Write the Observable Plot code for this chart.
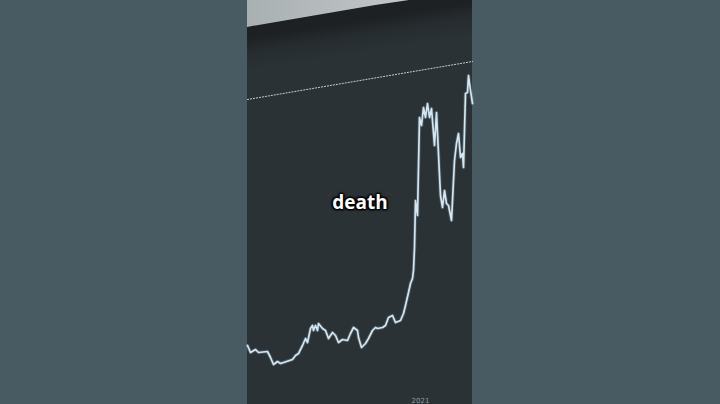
<!DOCTYPE html>
<html>
<head>
<meta charset="utf-8">
<script src="https://cdn.jsdelivr.net/npm/d3@7"></script>
<script src="https://cdn.jsdelivr.net/npm/@observablehq/plot@0.6"></script>
<style>
  html, body { margin: 0; padding: 0; background: #485a62; width: 720px; height: 404px; overflow: hidden; }
  #wrap { position: relative; width: 720px; height: 404px; }
  #panel { position: absolute; left: 247px; top: 0; width: 225px; height: 404px; overflow: hidden;
           background: linear-gradient(171deg, #1d2022 0px, #1e2123 38px, #262c2f 52px, #2a3236 70px, #2a3236 100%); }
  #light { position: absolute; left: 0; top: 0; width: 225px; height: 28px;
           background: linear-gradient(to right, #a9b0b2, #b7bdbf 40%, #c2c6c7 70%, #9aa1a3);
           clip-path: polygon(0 0, 100% 0, 100% 0%, 72% 0%, 57% 18%, 0 96%); }
  #chart { position: absolute; left: 0; top: 0; }
  #caption { position: absolute; left: 0; width: 720px; top: 189px; text-align: center;
             font-family: "Open Sans", "Noto Sans", sans-serif; font-weight: 700; font-size: 19px; color: #ffffff;
             text-shadow: 0 0 2px #000, 0 0 2px #000, 1px 1px 2px #000, -1px -1px 2px #000, 1px -1px 2px #000, -1px 1px 2px #000; }
</style>
</head>
<body>
<div id="wrap">
  <div id="panel"><div id="light"></div></div>
  <div id="chart"></div>
  <div id="caption">death</div>
</div>
<script>
// Price series (day index, price in arbitrary units)
const days = [0, 3, 8, 11, 20, 23, 26, 30, 33, 45,
  48, 51, 55, 58, 60, 63, 65, 66, 68, 70,
  71, 75, 78, 81, 83, 85, 88, 91, 95, 100,
  103, 106, 110, 111, 114, 118, 121, 125, 128, 130,
  135, 138, 141, 145, 148, 153, 156, 158, 161, 163,
  165, 166, 167, 168, 170, 172, 174, 176, 178, 180,
  182, 184, 187, 189, 193, 195, 197, 199, 201, 204,
  207, 209, 211, 213, 215, 216, 218, 220, 221, 223,
  225];
const prices = [59, 52, 55, 52, 53, 47, 40, 43, 41, 45,
  49, 51, 59, 66, 62, 76, 79, 74, 79, 74,
  81, 76, 74, 66, 69, 72, 69, 62, 65, 64,
  71, 77, 74, 67, 57, 61, 66, 74, 77, 76,
  77, 79, 87, 89, 82, 84, 91, 99, 112, 121,
  126, 134, 157, 204, 189, 287, 279, 297, 287, 301,
  287, 296, 259, 292, 209, 197, 214, 201, 199, 184,
  244, 261, 271, 247, 251, 237, 311, 312, 329, 314,
  301];
// Dotted reference level (start and end of the visible window)
const refDays = [0, 225];
const refLevel = [305, 343];
const tickLabel = "2021";

const series = days.map((d, i) => ({day: d, price: prices[i]}));
const ref = refDays.map((d, i) => ({day: d, price: refLevel[i]}));

const chart = Plot.plot({
  width: 720,
  height: 404,
  margin: 0,
  style: {background: "transparent", overflow: "visible"},
  x: {domain: [0, 225], range: [247, 472], axis: null},
  y: {domain: [0, 404], range: [404, 0], axis: null},
  marks: [
    Plot.line(ref, {x: "day", y: "price", stroke: "#d7dfe2", strokeWidth: 1, strokeDasharray: "1.2,1.8", strokeOpacity: 0.9}),
    Plot.line(series, {x: "day", y: "price", stroke: "#9fc4dc", strokeWidth: 3.5, strokeOpacity: 0.25, curve: "linear"}),
    Plot.line(series, {x: "day", y: "price", stroke: "#d6e6f0", strokeWidth: 1.7, curve: "linear"}),
    Plot.text([tickLabel], {x: [173], y: [2], text: d => d, fill: "#8f9ea4", fontSize: 7, fontFamily: "DejaVu Sans", textAnchor: "middle", lineAnchor: "bottom"})
  ]
});
document.getElementById("chart").appendChild(chart);
</script>
</body>
</html>
